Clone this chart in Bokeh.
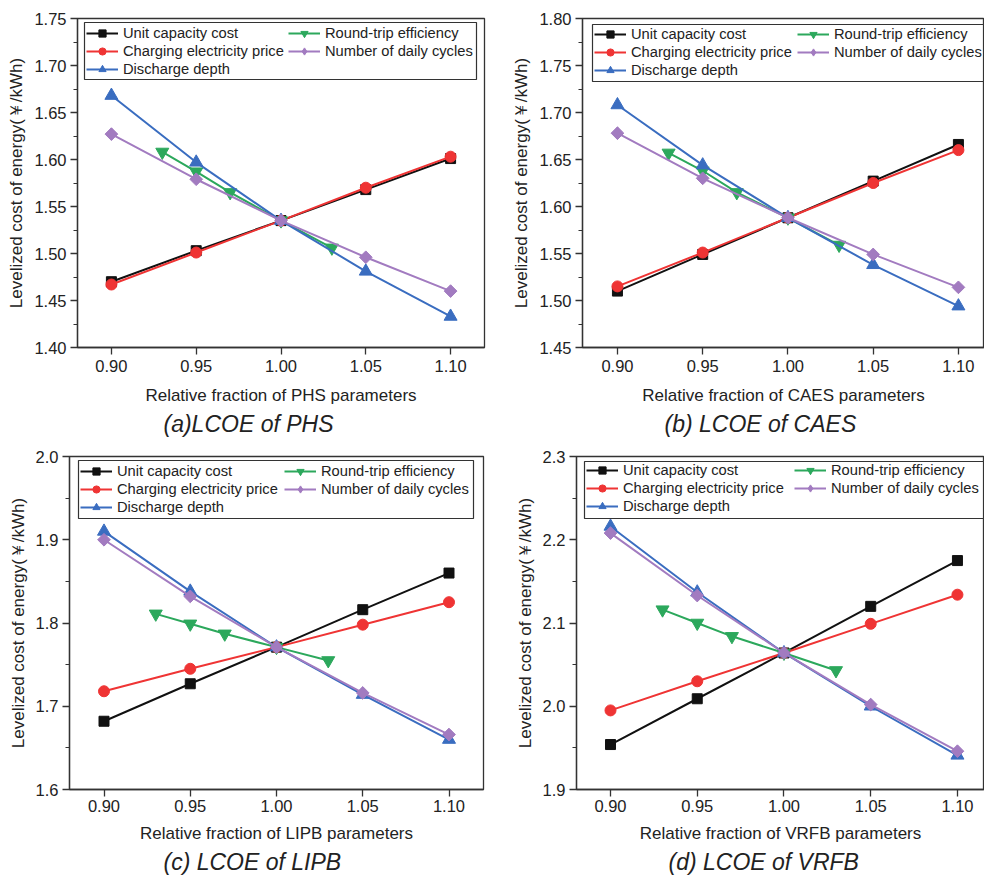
import math
from bokeh.plotting import figure
from bokeh.layouts import column, row
from bokeh.models import (Legend, LegendItem, Title, Range1d, FixedTicker,
                          NumeralTickFormatter, BoxAnnotation)
from bokeh.embed import file_html
from bokeh.resources import INLINE

# ---------------- data ----------------
x_param = [0.90, 0.95, 1.00, 1.05, 1.10]
x_rte = [0.93, 0.95, 0.97, 1.00, 1.03]

series_names = ["Unit capacity cost", "Charging electricity price", "Discharge depth",
                "Round-trip efficiency", "Number of daily cycles"]

phs_ucc = [1.470, 1.503, 1.535, 1.568, 1.601]
phs_cep = [1.467, 1.501, 1.535, 1.570, 1.603]
phs_rte = [1.608, 1.587, 1.565, 1.535, 1.506]
phs_ndc = [1.627, 1.579, 1.535, 1.496, 1.460]
phs_dd = [1.668, 1.597, 1.535, 1.481, 1.433]

caes_ucc = [1.510, 1.549, 1.588, 1.627, 1.666]
caes_cep = [1.515, 1.551, 1.588, 1.625, 1.660]
caes_rte = [1.657, 1.638, 1.615, 1.588, 1.559]
caes_ndc = [1.678, 1.630, 1.588, 1.549, 1.514]
caes_dd = [1.708, 1.644, 1.588, 1.538, 1.494]

lipb_ucc = [1.682, 1.727, 1.771, 1.816, 1.860]
lipb_cep = [1.718, 1.745, 1.771, 1.798, 1.825]
lipb_rte = [1.811, 1.799, 1.787, 1.771, 1.755]
lipb_ndc = [1.900, 1.832, 1.771, 1.716, 1.666]
lipb_dd = [1.910, 1.838, 1.771, 1.714, 1.660]

vrfb_ucc = [1.954, 2.009, 2.064, 2.120, 2.175]
vrfb_cep = [1.995, 2.030, 2.064, 2.099, 2.134]
vrfb_rte = [2.116, 2.100, 2.084, 2.064, 2.043]
vrfb_ndc = [2.208, 2.133, 2.064, 2.002, 1.946]
vrfb_dd = [2.216, 2.137, 2.064, 2.000, 1.941]

x_ticks = [0.90, 0.95, 1.00, 1.05, 1.10]
y_ticks_a = [1.40, 1.45, 1.50, 1.55, 1.60, 1.65, 1.70, 1.75]
y_ticks_b = [1.45, 1.50, 1.55, 1.60, 1.65, 1.70, 1.75, 1.80]
y_ticks_c = [1.6, 1.7, 1.8, 1.9, 2.0]
y_ticks_d = [1.9, 2.0, 2.1, 2.2, 2.3]

FONT = "Liberation Sans"
C_BLACK = "#111111"
C_RED = "#EF3434"
C_GREEN = "#2CA85C"
C_PURPLE = "#A27BC0"
C_BLUE = "#3A6DC0"
AX = "#333333"

GH = 18       # legend row height


def make_panel(sys, ucc, cep, rte, ndc, dd, yticks, yfmt, xr, title, title_off,
               width, height, bl, br, bt, bb, box, col2, maj_std, lab_std):
    p = figure(width=width, height=height, output_backend="svg", toolbar_location=None,
               x_range=Range1d(*xr), y_range=Range1d(yticks[0], yticks[-1]),
               min_border_left=bl, min_border_right=br, min_border_top=bt,
               min_border_bottom=bb)
    fh = height - bt - bb
    p.xgrid.visible = False
    p.ygrid.visible = False
    p.outline_line_color = AX
    p.outline_line_width = 1.3
    p.background_fill_color = "white"
    p.border_fill_color = "white"

    step = yticks[1] - yticks[0]
    minors = [yticks[0] + step * (i + 0.5) for i in range(len(yticks) - 1)]
    p.yaxis.ticker = FixedTicker(ticks=yticks, minor_ticks=minors + yticks)
    p.yaxis.formatter = NumeralTickFormatter(format=yfmt)
    p.xaxis.ticker = FixedTicker(ticks=x_ticks)
    p.xaxis.formatter = NumeralTickFormatter(format="0.00")
    for ax in (p.xaxis[0], p.yaxis[0]):
        ax.axis_line_color = AX
        ax.axis_line_width = 1.3
        ax.major_tick_line_color = AX
        ax.major_tick_line_width = 1.3
        ax.major_tick_out = 7
        ax.major_tick_in = 0
        ax.minor_tick_line_color = AX
        ax.minor_tick_line_width = 1.2
        ax.minor_tick_out = 4
        ax.minor_tick_in = 0
        ax.major_label_text_font = FONT
        ax.major_label_text_font_size = "16.5px"
        ax.major_label_text_color = "#222222"
        ax.axis_label_text_font = FONT
        ax.axis_label_text_font_size = "17px"
        ax.axis_label_text_font_style = "normal"
        ax.axis_label_text_color = "#222222"
    p.xaxis.minor_tick_line_color = None
    p.xaxis.major_label_standoff = maj_std
    p.yaxis.major_label_standoff = 4
    p.xaxis.axis_label = "Relative fraction of %s parameters" % sys
    p.yaxis.axis_label = "Levelized cost of energy(\uffe5/kWh)"
    p.xaxis.axis_label_standoff = lab_std
    p.yaxis.axis_label_standoff = 5

    lw = 2
    # legend-only representative of the diamond marker (hidden under the first purple marker)
    m5_leg = p.scatter(x_param[:1], ndc[:1], marker="diamond", size=12,
                       fill_color=C_PURPLE, line_color=C_PURPLE)
    l1 = p.line(x_param, ucc, line_color=C_BLACK, line_width=lw)
    m1 = p.scatter(x_param, ucc, marker="square", size=10, fill_color=C_BLACK, line_color=C_BLACK)
    l2 = p.line(x_param, cep, line_color=C_RED, line_width=lw)
    m2 = p.scatter(x_param, cep, marker="circle", size=11, fill_color=C_RED, line_color=C_RED)
    l4 = p.line(x_rte, rte, line_color=C_GREEN, line_width=lw)
    m4 = p.scatter(x_rte, rte, marker="inverted_triangle", size=13, fill_color=C_GREEN, line_color=C_GREEN)
    l3 = p.line(x_param, dd, line_color=C_BLUE, line_width=lw)
    m3 = p.scatter(x_param, dd, marker="triangle", size=13, fill_color=C_BLUE, line_color=C_BLUE)
    l5 = p.line(x_param, ndc, line_color=C_PURPLE, line_width=lw)
    m5 = p.scatter(x_param, ndc, marker="square", angle=math.pi / 4, size=9,
                   fill_color=C_PURPLE, line_color=C_PURPLE)

    L, T, W, H = box
    p.add_layout(BoxAnnotation(left=bl + L, right=bl + L + W, top=bt + T, bottom=bt + T + H,
                               left_units="canvas", right_units="canvas",
                               top_units="canvas", bottom_units="canvas",
                               fill_color="white", fill_alpha=1.0,
                               line_color=AX, line_width=1.2, line_alpha=1.0))

    common = dict(label_text_font=FONT, label_text_font_size="14.7px",
                  label_text_color="#222222", glyph_width=32, glyph_height=GH,
                  label_height=GH, label_standoff=5, spacing=0, padding=0, margin=0,
                  border_line_color=None, background_fill_alpha=0.0,
                  orientation="vertical")
    top_rel = T + 2
    items1 = [LegendItem(label=series_names[0], renderers=[l1, m1]),
              LegendItem(label=series_names[1], renderers=[l2, m2]),
              LegendItem(label=series_names[2], renderers=[l3, m3])]
    items2 = [LegendItem(label=series_names[3], renderers=[l4, m4]),
              LegendItem(label=series_names[4], renderers=[l5, m5_leg])]
    h1 = 3 * GH
    h2 = 2 * GH
    leg1 = Legend(items=items1, location=(L + 2, fh - top_rel - h1), **common)
    leg2 = Legend(items=items2, location=(L + col2, fh - top_rel - h2), **common)
    p.add_layout(leg1)
    p.add_layout(leg2)

    t = Title(text=title, align="left", offset=title_off, standoff=2, text_font=FONT,
              text_font_size="23px", text_font_style="italic", text_color="#222222")
    p.add_layout(t, "below")
    return p


pa = make_panel("PHS", phs_ucc, phs_cep, phs_rte, phs_ndc, phs_dd, y_ticks_a, "0.00",
                (0.88, 1.12), "(a)LCOE of PHS", 86, 492, 440, 77, 8, 18, 93,
                (7, 4, 392, 57), 204, 5, 11)
pb = make_panel("CAES", caes_ucc, caes_cep, caes_rte, caes_ndc, caes_dd, y_ticks_b, "0.00",
                (0.8795, 1.1153), "(b) LCOE of CAES", 82, 492, 440, 90, 0, 18, 92,
                (10, 6, 391, 57), 205, 5, 11)
pc = make_panel("LIPB", lipb_ucc, lipb_cep, lipb_rte, lipb_ndc, lipb_dd, y_ticks_c, "0.0",
                (0.88, 1.12), "(c) LCOE of LIPB", 94, 492, 437, 69, 9, 16, 88,
                (9, 4, 395, 58), 206, 3, 9)
pd = make_panel("VRFB", vrfb_ucc, vrfb_cep, vrfb_rte, vrfb_ndc, vrfb_dd, y_ticks_d, "0.0",
                (0.8804, 1.1156), "(d) LCOE of VRFB", 92, 492, 437, 84, 0, 16, 86,
                (8, 5, 399, 57), 210, 3, 9)

layout = column(row(pa, pb), row(pc, pd))
open("out.html", "w").write(file_html(layout, INLINE))
